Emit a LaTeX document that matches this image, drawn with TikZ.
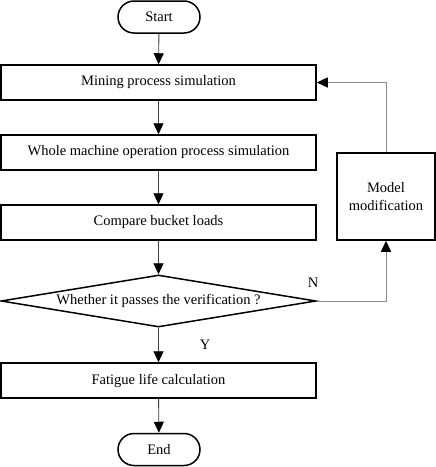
\documentclass[tikz,border=0pt]{standalone}
\usepackage{fontspec}
\setmainfont{Liberation Serif}
\usetikzlibrary{arrows.meta,shapes.geometric}
\begin{document}
\begin{tikzpicture}[x=1pt,y=-1pt,
  txt/.style={font=\fontsize{14.5}{17}\selectfont},
  box/.style={draw,line width=1.5pt,minimum width=315pt,minimum height=35pt,inner sep=0pt,txt},
  term/.style={draw,line width=1.5pt,rounded corners=16pt,minimum width=82pt,minimum height=32pt,inner sep=0pt,txt},
  dec/.style={draw,line width=1.5pt,diamond,aspect=6.1,minimum width=315pt,minimum height=52pt,inner sep=0pt,txt},
  arr/.style={-{Triangle[length=11pt,width=10pt,color=black,fill=black]},line width=0.9pt,draw=black!75},
  garr/.style={-{Triangle[length=11pt,width=10pt,color=black,fill=black]},line width=0.9pt,draw=black!45}]
\useasboundingbox (0,0) rectangle (436,467);
\node[term] (start) at (159,17) {Start};
\node[box] (mine) at (158.5,82.5) {Mining process simulation};
\node[box] (whole) at (158.5,152.5) {Whole machine operation process simulation};
\node[box] (comp) at (158.5,222.5) {Compare bucket loads};
\node[dec] (ver) at (158.5,301) {Whether it passes the verification ?};
\node[box] (fat) at (158.5,380.5) {Fatigue life calculation};
\node[term] (end) at (159,449.5) {End};
\node[draw,line width=1.5pt,minimum width=98pt,minimum height=87pt,inner sep=0pt,align=center,font=\fontsize{14.5}{18}\selectfont] (mod) at (386,196.5) {Model\\modification};
\draw[arr] (start) -- (mine);
\draw[arr] (mine) -- (whole);
\draw[arr] (whole) -- (comp);
\draw[arr] (comp) -- (ver.north);
\draw[arr] (ver.south) -- (fat);
\draw[arr] (fat) -- (end);
\draw[garr] (ver.east) -| (mod.south);
\draw[garr] (mod.north) |- (mine.east);
\node[txt] (nlab) at (313,283) {N};
\node[txt] (ylab) at (205,345) {Y};
\end{tikzpicture}
\end{document}
